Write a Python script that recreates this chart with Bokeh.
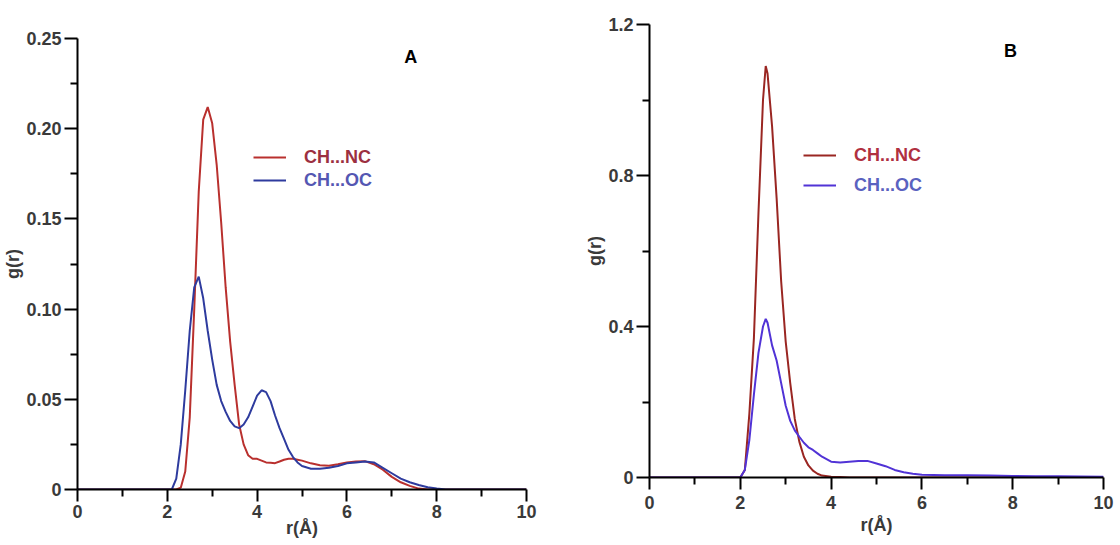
from bokeh.plotting import figure
from bokeh.models import (Range1d, FixedTicker, CustomJSTickFormatter, Legend,
                          LegendItem, Label)
from bokeh.layouts import row
from bokeh.embed import file_html
from bokeh.resources import INLINE

# ---------------- data ----------------
r_A = [0, 1.0, 2.0, 2.1, 2.2, 2.3, 2.4, 2.5, 2.6, 2.7, 2.8, 2.9, 3.0, 3.1, 3.2,
       3.3, 3.4, 3.5, 3.6, 3.7, 3.8, 3.9, 4.0, 4.1, 4.2, 4.3, 4.4, 4.5, 4.6,
       4.7, 4.8, 4.9, 5.0, 5.2, 5.4, 5.6, 5.8, 6.0, 6.2, 6.4, 6.6, 6.8, 7.0,
       7.2, 7.4, 7.6, 7.8, 8.0, 8.2, 8.5, 9.0, 10.0]
nc_A = [0, 0, 0, 0, 0, 0.001, 0.01, 0.04, 0.10, 0.165, 0.205, 0.212, 0.203,
        0.180, 0.148, 0.112, 0.082, 0.058, 0.036, 0.025, 0.019, 0.017, 0.017,
        0.016, 0.015, 0.0148, 0.0146, 0.0155, 0.0165, 0.017, 0.017, 0.0165,
        0.016, 0.0145, 0.0135, 0.0132, 0.014, 0.015, 0.0155, 0.0157, 0.014,
        0.011, 0.007, 0.004, 0.002, 0.0005, 0, 0, 0, 0, 0, 0]
oc_A = [0, 0, 0, 0, 0.006, 0.025, 0.055, 0.088, 0.112, 0.118, 0.106, 0.088,
        0.072, 0.058, 0.049, 0.043, 0.038, 0.035, 0.034, 0.036, 0.040, 0.046,
        0.052, 0.055, 0.054, 0.049, 0.041, 0.034, 0.028, 0.022, 0.018, 0.015,
        0.013, 0.0115, 0.0115, 0.012, 0.013, 0.0145, 0.015, 0.0155, 0.015,
        0.012, 0.009, 0.006, 0.004, 0.0025, 0.0012, 0.0005, 0, 0, 0, 0]

r_B = [0, 1.0, 2.0, 2.1, 2.2, 2.3, 2.4, 2.5, 2.56, 2.6, 2.7, 2.8, 2.9, 3.0,
       3.1, 3.2, 3.3, 3.4, 3.5, 3.6, 3.7, 3.8, 4.0, 4.2, 4.4, 4.6, 4.8, 5.0,
       5.2, 5.4, 5.6, 5.8, 6.0, 6.5, 7.0, 7.5, 8.0, 8.5, 9.0, 10.0]
nc_B = [0, 0, 0, 0.02, 0.17, 0.37, 0.70, 1.00, 1.09, 1.07, 0.93, 0.74, 0.52,
        0.36, 0.25, 0.155, 0.095, 0.055, 0.032, 0.018, 0.01, 0.005, 0.002,
        0.001, 0, 0, 0, 0, 0, 0, 0, 0, 0, 0, 0, 0, 0, 0, 0, 0]
oc_B = [0, 0, 0, 0.02, 0.10, 0.22, 0.33, 0.40, 0.42, 0.41, 0.35, 0.31, 0.25,
        0.19, 0.15, 0.125, 0.108, 0.092, 0.08, 0.073, 0.064, 0.055, 0.042,
        0.04, 0.042, 0.044, 0.044, 0.037, 0.03, 0.02, 0.014, 0.01, 0.007,
        0.006, 0.006, 0.005, 0.004, 0.003, 0.003, 0.002]

x_ticks = [0, 2, 4, 6, 8, 10]
x_minor = [1, 3, 5, 7, 9]
yA_ticks = [0, 0.05, 0.10, 0.15, 0.20, 0.25]
yA_minor = [0.025, 0.075, 0.125, 0.175, 0.225]
yB_ticks = [0, 0.4, 0.8, 1.2]
yB_minor = [0.2, 0.6, 1.0]
labels = ["CH...NC", "CH...OC"]

FONT = "Liberation Sans"


def style(p, yt, ym, digits):
    p.xaxis.ticker = FixedTicker(ticks=x_ticks, minor_ticks=x_minor)
    p.yaxis.ticker = FixedTicker(ticks=yt, minor_ticks=ym)
    p.yaxis.formatter = CustomJSTickFormatter(
        code="return tick == 0 ? '0' : tick.toFixed(%d);" % digits)
    for ax in (p.xaxis[0], p.yaxis[0]):
        ax.axis_line_color = "black"
        ax.axis_line_width = 2
        ax.major_tick_line_color = "black"
        ax.major_tick_line_width = 2
        ax.minor_tick_line_color = "black"
        ax.minor_tick_line_width = 2
        ax.major_tick_in = 0
        ax.minor_tick_in = 0
        ax.major_tick_out = 12
        ax.minor_tick_out = 7
        ax.major_label_text_font = FONT
        ax.major_label_text_font_style = "bold"
        ax.major_label_text_font_size = "18px"
        ax.major_label_text_color = "#3a3a3a"
        ax.axis_label_text_font = FONT
        ax.axis_label_text_font_style = "bold"
        ax.axis_label_text_font_size = "18px"
        ax.axis_label_text_color = "#3a3a3a"
    p.yaxis.major_tick_out = 13
    p.yaxis.major_label_standoff = 3
    p.yaxis.axis_label_standoff = 0
    p.xaxis.axis_label = "r(Å)"
    p.yaxis.axis_label = "g(r)"
    p.xgrid.visible = False
    p.ygrid.visible = False
    p.outline_line_color = None
    p.background_fill_color = "white"
    p.border_fill_color = "white"
    p.frame_align = False


def add_legends(p, r1, r2, tcols, x0, y1, y2):
    for rend, lab, tc, yy in ((r1, labels[0], tcols[0], y1),
                              (r2, labels[1], tcols[1], y2)):
        leg = Legend(items=[LegendItem(label=lab, renderers=[rend])],
                     location=(x0, yy), padding=0, margin=0,
                     border_line_color=None, background_fill_alpha=0,
                     glyph_width=33, glyph_height=22, label_height=22,
                     label_standoff=18, label_text_font=FONT,
                     label_text_font_style="bold", label_text_font_size="18px",
                     label_text_color=tc)
        p.add_layout(leg, "center")


# ---------------- panel A ----------------
pA = figure(width=560, height=544, x_range=Range1d(0, 10),
            y_range=Range1d(0, 0.25), output_backend="svg",
            toolbar_location=None, min_border_left=76, min_border_right=34,
            min_border_top=38, min_border_bottom=55)
style(pA, yA_ticks, yA_minor, 2)
pA.xaxis.major_label_standoff = 3
pA.xaxis.axis_label_standoff = -3
rA1 = pA.line(r_A, nc_A, line_color="#b9302e", line_width=2)
rA2 = pA.line(r_A, oc_A, line_color="#2e3b9e", line_width=2)
add_legends(pA, rA1, rA2, ["#9c3040", "#5457b2"], 176, 321, 298)
pA.add_layout(Label(x=7.42, y=0.24, text="A", text_font=FONT,
                    text_font_style="bold", text_font_size="18px",
                    text_color="black", text_align="center",
                    text_baseline="middle"))

# ---------------- panel B ----------------
pB = figure(width=558, height=544, x_range=Range1d(0, 10),
            y_range=Range1d(0, 1.2), output_backend="svg",
            toolbar_location=None, min_border_left=89, min_border_right=15,
            min_border_top=24, min_border_bottom=67)
style(pB, yB_ticks, yB_minor, 1)
pB.xaxis.major_label_standoff = 6
pB.xaxis.axis_label_standoff = 3
rB1 = pB.line(r_B, nc_B, line_color="#9a2622", line_width=2)
rB2 = pB.line(r_B, oc_B, line_color="#5133d6", line_width=2)
add_legends(pB, rB1, rB2, ["#b0303f", "#5a62c0"], 154, 311, 281)
pB.add_layout(Label(x=7.95, y=1.13, text="B", text_font=FONT,
                    text_font_style="bold", text_font_size="18px",
                    text_color="black", text_align="center",
                    text_baseline="middle"))

layout = row(pA, pB)
open("out.html", "w").write(file_html(layout, INLINE))
